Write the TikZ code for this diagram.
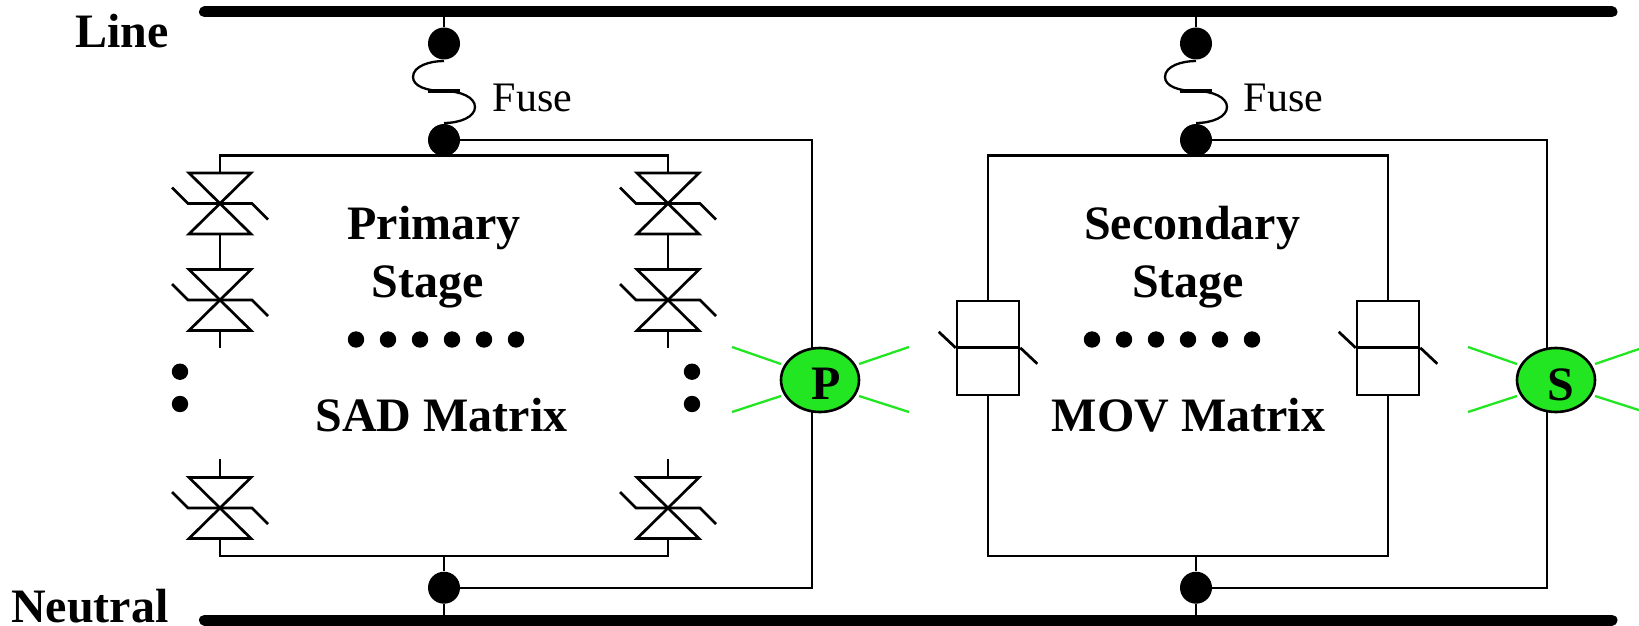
\documentclass[tikz,border=0pt]{standalone}
\usepackage{fontspec}
\setmainfont{Liberation Serif}
\usetikzlibrary{shapes.geometric}
\definecolor{lampgreen}{RGB}{34,230,34}
\tikzset{
  x=0.5pt,y=-0.5pt,
  wire/.style={line width=1.2pt,line join=miter},
  symb/.style={line width=1.35pt,line join=miter},
  bus/.style={line width=5.5pt,line cap=round},
  ray/.style={line width=1.15pt,draw=lampgreen},
  junction/.style={circle,fill=black,inner sep=0pt,minimum size=16pt},
  bigdot/.style={circle,fill=black,inner sep=0pt,minimum size=8.2pt},
  title/.style={font=\fontsize{24}{24}\selectfont\bfseries,inner sep=0pt,anchor=base},
  fuselabel/.style={font=\fontsize{21}{21}\selectfont,inner sep=0pt,anchor=base west},
  lamp/.style={ellipse,draw=black,line width=1.3pt,fill=lampgreen,minimum width=39pt,minimum height=32pt,inner sep=0pt},
  movbox/.style={rectangle,draw=black,line width=1.3pt,minimum width=31pt,minimum height=47pt,inner sep=0pt},
  sadsym/.pic={
    \coordinate (-top) at (0,-30.5);
    \coordinate (-bot) at (0,30.5);
    \draw[symb] (-31,-30.5) -- (31,-30.5) -- (-31,30.5) -- (31,30.5) -- cycle;
    \draw[symb] (-48,-16) -- (-32,0) -- (32,0) -- (48,16);
  },
  fusesym/.pic={
    \draw[line width=1.15pt] (0,-30) .. controls (-14,-30) and (-31,-25) .. (-31,-14)
       .. controls (-31,-5) and (-18,0) .. (0,0)
       .. controls (16,0) and (31,6) .. (31,16)
       .. controls (31,26) and (16,32) .. (0,32);
    \draw[line width=1.6pt] (-16,0) -- (16,0);
  },
  raysym/.pic={
    \draw[ray] (-88,-33) -- (-39,-16);
    \draw[ray] (-88,32) -- (-39,16);
    \draw[ray] (39,-16) -- (89,-33);
    \draw[ray] (39,16) -- (89,32);
  }
}
\begin{document}
\begin{tikzpicture}
\useasboundingbox (0,0) rectangle (1639,626);
% buses
\coordinate (lineL) at (204.5,12);
\coordinate (lineR) at (1612,12);
\coordinate (neutL) at (204.5,620);
\coordinate (neutR) at (1612,620);
\coordinate (tapA) at (444,12);
\coordinate (tapB) at (1196,12);
\coordinate (tapC) at (444,620);
\coordinate (tapD) at (1196,620);
\draw[bus] (lineL) -- (lineR);
\draw[bus] (neutL) -- (neutR);
\node[title,anchor=base east] (linelabel) at (169,48) {Line};
\node[title,anchor=base east] (neutlabel) at (169,622) {Neutral};
% junctions
\node[junction] (a1) at (444,43.5) {};
\node[junction] (a2) at (444,140) {};
\node[junction] (a3) at (444,587.7) {};
\node[junction] (b1) at (1196,43.5) {};
\node[junction] (b2) at (1196,140) {};
\node[junction] (b3) at (1196,587.7) {};
\draw[wire] (tapA) -- (a1);
\draw[wire] (tapB) -- (b1);
\draw[wire] (a3) -- (tapC);
\draw[wire] (b3) -- (tapD);
\pic at (444,91) {fusesym};
\pic at (1196,91) {fusesym};
\node[fuselabel] (fuseA) at (492.5,112) {Fuse};
\node[fuselabel] (fuseB) at (1243.5,112) {Fuse};
% bus rails of the two matrices
\coordinate (aTop) at (444,155.5);
\coordinate (aBot) at (444,556);
\coordinate (bTop) at (1196,155.5);
\coordinate (bBot) at (1196,556);
% SAD symbols
\pic (s1) at (220,203.5) {sadsym};
\pic (s2) at (220,300) {sadsym};
\pic (s3) at (220,508) {sadsym};
\pic (s4) at (668,203.5) {sadsym};
\pic (s5) at (668,300) {sadsym};
\pic (s6) at (668,508) {sadsym};
\coordinate (s2t) at (220,348);
\coordinate (s3t) at (220,459);
\coordinate (s5t) at (668,348);
\coordinate (s6t) at (668,459);
\draw[wire] (s1-top) |- (aTop) -| (s4-top);
\draw[wire] (s1-bot) -- (s2-top);
\draw[wire] (s4-bot) -- (s5-top);
\draw[wire] (s2-bot) -- (s2t);
\draw[wire] (s5-bot) -- (s5t);
\draw[wire] (s3t) -- (s3-top);
\draw[wire] (s6t) -- (s6-top);
\draw[wire] (s3-bot) |- (aBot) -| (s6-bot);
\draw[wire] (aBot) -- (a3);
\foreach \n/\x in {l/180,r/692}{
  \node[bigdot] (d\n1) at (\x,371.7) {};
  \node[bigdot] (d\n2) at (\x,404) {};
}
% MOV symbols
\node[movbox] (m1) at (988,347.8) {};
\node[movbox] (m2) at (1388,347.8) {};
\draw[symb] (m1.west) -- (m1.east);
\draw[symb] (m2.west) -- (m2.east);
\draw[symb] (m1.west) -- ++(-17,-16);
\draw[symb] (m1.east) -- ++(17,16);
\draw[symb] (m2.west) -- ++(-17,-16);
\draw[symb] (m2.east) -- ++(17,16);
\draw[wire] (m1.north) |- (bTop) -| (m2.north);
\draw[wire] (m1.south) |- (bBot) -| (m2.south);
\draw[wire] (bBot) -- (b3);
% short heavier stubs under the fuse junctions
\coordinate (aStub) at (411,155.5);
\coordinate (bStub) at (1163,155.5);
\draw[line width=1.35pt] (aStub) -- (aTop);
\draw[line width=1.35pt] (bStub) -- (bTop);
% texts
\node[title] (t1) at (434,239.5) {Primary};
\node[title] (t2) at (427.5,297.5) {Stage};
\node[title] (t3) at (441.5,431.5) {SAD Matrix};
\node[title] (t4) at (1192,239.5) {Secondary};
\node[title] (t5) at (1188,297.5) {Stage};
\node[title] (t6) at (1188.5,431.5) {MOV Matrix};
\foreach \i in {0,...,5}{
  \node[bigdot] (da\i) at (356+32*\i,339.5) {};
  \node[bigdot] (db\i) at (1092+32*\i,339.5) {};
}
% lamps and output wires
\coordinate (pv) at (812,140);
\coordinate (sv) at (1547,140);
\draw[wire] (a2) -- (pv) -- (a3 -| pv) -- (a3);
\draw[wire] (b2) -- (sv) -- (b3 -| sv) -- (b3);
\node[lamp] (P) at (820,380) {};
\node[lamp] (S) at (1556,380) {};
\node[title] (Pt) at (826,399) {P};
\node[title] (St) at (1561,400) {S};
\pic at (820,380) {raysym};
\begin{scope}
\clip (1400,300) rectangle (1639,460);
\pic at (1556,380) {raysym};
\end{scope}
\end{tikzpicture}
\end{document}
